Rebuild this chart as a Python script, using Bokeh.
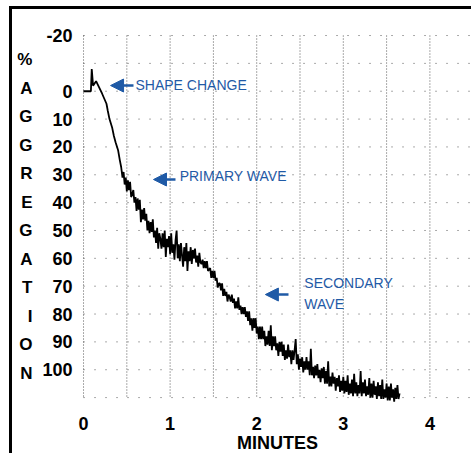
from bokeh.plotting import figure
from bokeh.models import Range1d, FixedTicker, Arrow, NormalHead, ColumnDataSource
from bokeh.core.properties import value
from bokeh.embed import file_html
from bokeh.resources import INLINE

# ---- data (minutes vs % aggregation) ----
minutes = [
    0.0, 0.04, 0.085, 0.095, 0.11, 0.145, 0.18, 0.215, 0.24, 0.265, 0.28, 0.30, 0.33, 0.35,
    0.37, 0.40, 0.42, 0.435,
    0.45, 0.4625, 0.475, 0.4875, 0.5, 0.5125, 0.525, 0.5375, 0.55, 0.5625, 0.575, 0.5875,
    0.6, 0.6125, 0.625, 0.6375, 0.65, 0.6625, 0.675, 0.6875, 0.7, 0.7125, 0.725, 0.7375, 0.75,
    0.7625, 0.775, 0.7875, 0.8, 0.8125, 0.825, 0.8375, 0.85, 0.8625, 0.875, 0.8875, 0.9,
    0.9125, 0.925, 0.9375, 0.95, 0.9625, 0.975, 0.9875, 1.0, 1.0125, 1.025, 1.0375, 1.05,
    1.0625, 1.075, 1.0875, 1.1, 1.1125, 1.125, 1.1375, 1.15, 1.1625, 1.175, 1.1875, 1.2,
    1.2125, 1.225, 1.2375, 1.25, 1.2625, 1.275, 1.2875, 1.3, 1.3125, 1.325, 1.3375, 1.35,
    1.3625, 1.375, 1.3875, 1.4, 1.4125, 1.425, 1.4375, 1.45, 1.4625, 1.475, 1.4875, 1.5,
    1.5125, 1.525, 1.5375, 1.55, 1.5625, 1.575, 1.5875, 1.6, 1.6125, 1.625, 1.6375, 1.65,
    1.6625, 1.675, 1.6875, 1.7, 1.7125, 1.725, 1.7375, 1.75, 1.7625, 1.775, 1.7875, 1.8,
    1.8125, 1.825, 1.8375, 1.85, 1.8625, 1.875, 1.8875, 1.9,
    1.9125, 1.925, 1.9375, 1.95, 1.9625, 1.975, 1.9875, 2.0, 2.0125, 2.025, 2.0375, 2.05,
    2.0625, 2.075, 2.0875, 2.1, 2.1125, 2.125, 2.1375, 2.15, 2.1625, 2.175, 2.1875, 2.2,
    2.2125, 2.225, 2.2375, 2.25, 2.2625, 2.275, 2.2875, 2.3, 2.3125, 2.325, 2.3375, 2.35,
    2.3625, 2.375, 2.3875, 2.4, 2.4125, 2.425, 2.4375, 2.45, 2.4625, 2.475, 2.4875, 2.5,
    2.5125, 2.525, 2.5375, 2.55, 2.5625, 2.575, 2.5875, 2.6, 2.6125, 2.625, 2.6375, 2.65,
    2.6625, 2.675, 2.6875, 2.7, 2.7125, 2.725, 2.7375, 2.75, 2.7625, 2.775, 2.7875, 2.8,
    2.8125, 2.825, 2.8375, 2.85, 2.8625, 2.875, 2.8875, 2.9, 2.9125, 2.925, 2.9375, 2.95,
    2.9625, 2.975, 2.9875, 3.0, 3.0125, 3.025, 3.0375, 3.05, 3.0625, 3.075, 3.0875, 3.1,
    3.1125, 3.125, 3.1375, 3.15, 3.1625, 3.175, 3.1875, 3.2, 3.2125, 3.225, 3.2375, 3.25,
    3.2625, 3.275, 3.2875, 3.3, 3.3125, 3.325, 3.3375, 3.35, 3.3625, 3.375, 3.3875, 3.4,
    3.4125, 3.425, 3.4375, 3.45, 3.4625, 3.475, 3.4875, 3.5, 3.5125, 3.525, 3.5375, 3.55,
    3.5625, 3.575, 3.5875, 3.6, 3.6125, 3.625, 3.6375, 3.65]
aggregation = [
    0, 0, 0, -8, -2, -3.6, -1.4, 0.9, 2.7, 4.5, 7, 10, 13, 16,
    18.3, 21.3, 24.9, 27.3,
    31, 29, 33.5, 31, 36, 32, 35.5, 32.5, 38, 37, 35.5, 40,
    38, 43, 38.5, 42.5, 39, 47, 42.5, 46, 42, 46.5, 44, 50, 46.5,
    51, 47, 50.5, 46, 52.5, 50, 54.5, 49, 56.5, 51, 53, 56.5,
    51, 56, 50, 59.5, 53, 56, 52, 58.5, 51, 58, 55, 60.5,
    53.5, 50, 60, 55, 61, 54.5, 59, 63, 56, 61, 54.5, 64.5,
    57.5, 61, 56, 62, 57, 60, 56.5, 61.5, 59, 63, 58, 61.5,
    62, 60.5, 63.5, 61, 63.5, 61, 64.5, 64, 63.5, 67, 64.5, 67,
    64.5, 68, 67, 70.5, 69, 69, 71.5, 69, 73.5, 71, 73.5, 72,
    75.5, 73, 74, 75.5, 73, 76, 74.5, 78, 75.5, 78, 74, 78.5,
    77, 80, 77.5, 80, 77.5, 81, 79, 82.5,
    79, 84, 81.5, 86, 81.5, 85, 81.5, 87, 84.5, 89, 84.5, 89,
    84.5, 89, 86, 91.5, 88, 91, 86, 91.5, 84, 93, 88, 91.5,
    88, 93, 90.5, 95, 90, 93.5, 90, 95, 91, 96.5, 93, 96,
    91, 95.5, 93, 98, 93, 96.5, 93, 89, 98, 94.5, 100, 96,
    99, 95.5, 101, 97, 100, 95.5, 100, 97, 102, 92.5, 102, 99,
    103, 98.5, 102, 98, 103, 100, 104.5, 99.5, 103, 99, 105, 100.5,
    105, 97, 106, 102.5, 106, 101, 105, 102.5, 107.5, 103, 106, 102,
    108, 104, 107.5, 102.5, 108.5, 104, 108, 102, 109, 105, 108.5, 103.5,
    109.5, 101.5, 108.5, 104.5, 109.5, 105.5, 108.5, 100.5, 109.5, 104.5, 108.5, 103.5,
    109.5, 106, 109, 103, 110, 105, 110, 104, 109, 106, 110.5, 104.5,
    109.5, 105.5, 110.5, 103.5, 110.5, 107, 110, 105, 111, 106, 111, 105,
    110, 107, 111.5, 106.5, 110.5, 105.5, 110.5, 108.5]

x_tick_values = [0, 1, 2, 3, 4]
y_tick_values = [-20, 0, 10, 20, 30, 40, 50, 60, 70, 80, 90, 100]
x_grid_values = [0, 0.5, 1, 1.5, 2, 2.5, 3, 3.5, 4, 4.5]
y_grid_values = [-20, -10, 0, 10, 20, 30, 40, 50, 60, 70, 80, 90, 100, 110]
y_grid_top, y_grid_bottom = -20, 110
x_grid_left, x_grid_right = 0, 4.6

note_texts = ["SHAPE CHANGE", "PRIMARY WAVE", "SECONDARY\nWAVE"]
note_x = [0.6, 1.11, 2.55]
note_y = [-2.4, 30.5, 72.6]
arrow_tail_x = [0.577, 1.062, 2.367]
arrow_tip_x = [0.312, 0.808, 2.10]
arrow_y = [-2.05, 31.7, 73.0]

BLUE = "#1f5aa6"
FONT = "Liberation Sans"

p = figure(width=462, height=447, output_backend="svg", toolbar_location=None,
           x_range=Range1d(-0.035, 4.515), y_range=Range1d(113.56, -23.6),
           min_border_left=68, min_border_right=0, min_border_top=16, min_border_bottom=49)
p.margin = (6, 0, 0, 9)
p.styles = {"border-top": "3px solid black", "border-left": "3px solid black"}
p.grid.visible = False
p.outline_line_color = None
p.background_fill_color = "white"
p.border_fill_color = "white"

# dotted grid
p.segment(x0=x_grid_values, x1=x_grid_values,
          y0=[y_grid_top] * len(x_grid_values), y1=[y_grid_bottom] * len(x_grid_values),
          line_color="#555555", line_width=1, line_dash="1 2")
p.segment(x0=[x_grid_left] * len(y_grid_values), x1=[x_grid_right] * len(y_grid_values),
          y0=y_grid_values, y1=y_grid_values,
          line_color="#555555", line_width=1, line_dash="1 10")

# trace
p.line(minutes, aggregation, line_color="black", line_width=1.8)

# axes
for ax, ticks in ((p.xaxis, x_tick_values), (p.yaxis, y_tick_values)):
    ax.ticker = FixedTicker(ticks=ticks)
    ax.axis_line_color = None
    ax.major_tick_line_color = None
    ax.minor_tick_line_color = None
    ax.major_tick_out = 0
    ax.major_tick_in = 0
    ax.major_label_text_font = FONT
    ax.major_label_text_font_size = "18px"
    ax.major_label_text_font_style = "bold"
    ax.major_label_text_color = "black"
    ax.axis_label_text_font = FONT
    ax.axis_label_text_font_style = "bold"
    ax.axis_label_text_color = "black"
p.yaxis.major_label_overrides = {-20: "-20"}
p.xaxis.major_label_standoff = 9
p.yaxis.major_label_standoff = 8
p.xaxis.axis_label = "MINUTES"
p.xaxis.axis_label_text_font_size = "18px"
p.xaxis.axis_label_standoff = 0

p.yaxis.axis_label = "%\nA\nG\nG\nR\nE\nG\nA\nT\nI\nO\nN"
p.yaxis.axis_label_orientation = "horizontal"
p.yaxis.axis_label_text_font_size = "17px"
p.yaxis.axis_label_text_line_height = 1.5
p.yaxis.axis_label_standoff = 7

# annotations
src = ColumnDataSource(dict(x=note_x, y=note_y, text=note_texts))
p.text(x="x", y="y", text="text", source=src, text_color=BLUE,
       text_font=value(FONT), text_font_size="14px",
       text_align="left", text_baseline="middle", text_line_height=1.3)
for xs, xe, yy in zip(arrow_tail_x, arrow_tip_x, arrow_y):
    p.add_layout(Arrow(x_start=xs, y_start=yy, x_end=xe, y_end=yy,
                       line_color=BLUE, line_width=2.5,
                       end=NormalHead(size=13, fill_color=BLUE, line_color=BLUE)))

open("out.html", "w").write(file_html(p, INLINE))
